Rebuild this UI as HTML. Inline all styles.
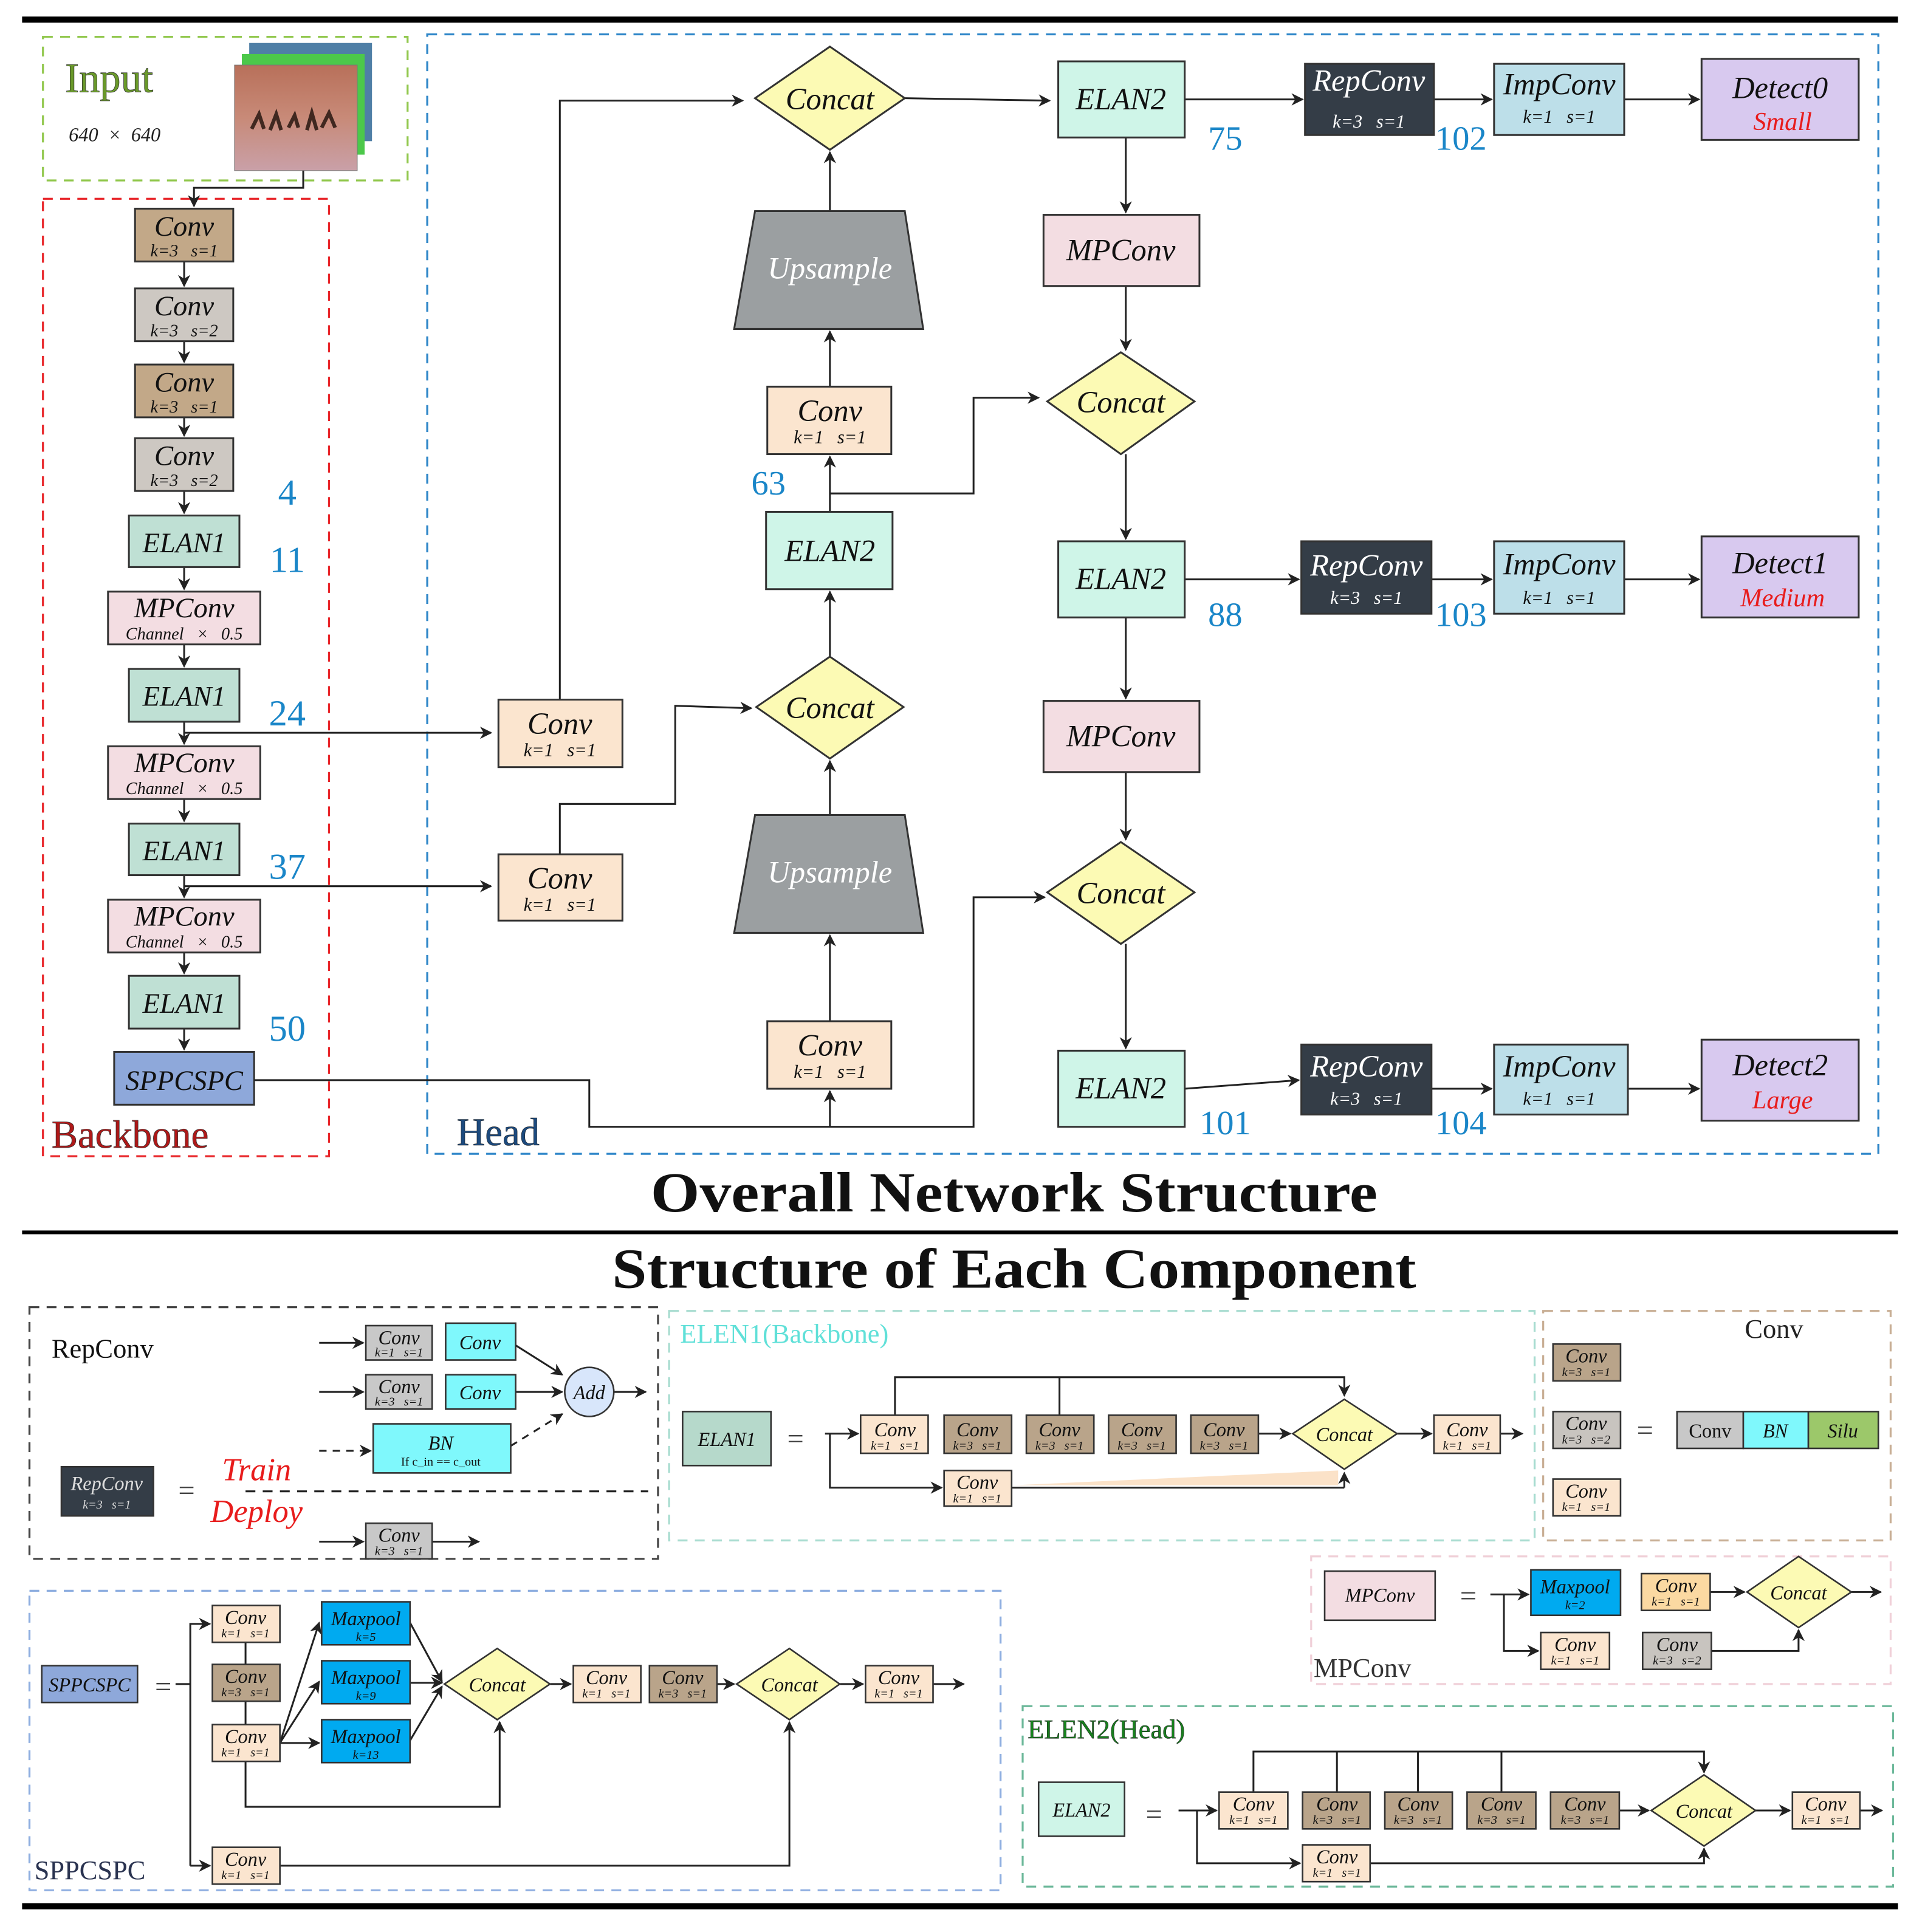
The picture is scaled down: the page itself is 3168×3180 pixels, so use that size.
<!DOCTYPE html>
<html><head><meta charset="utf-8"><style>
html,body{margin:0;padding:0;background:#fff;}
svg{display:block;}
text{font-family:"Liberation Serif",serif;white-space:pre;}
.i{font-style:italic;}
</style></head><body>
<svg width="3168" height="3180" viewBox="0 0 1568 1574" preserveAspectRatio="none" xmlns="http://www.w3.org/2000/svg">
<defs>
<marker id="a" markerWidth="10" markerHeight="10" refX="9" refY="5" orient="auto" markerUnits="userSpaceOnUse"><path d="M0,0 L10,5 L0,10 L3,5 Z" fill="#222"/></marker>
<linearGradient id="sky" x1="0" y1="0" x2="0" y2="1"><stop offset="0" stop-color="#b8705a"/><stop offset="0.5" stop-color="#c88a78"/><stop offset="1" stop-color="#c9a0a8"/></linearGradient>
</defs>
<rect width="1568" height="1574" fill="#fff"/>
<g stroke="#000"><line x1="18" y1="16" x2="1546" y2="16" stroke-width="5"/>
<line x1="18" y1="1004" x2="1546" y2="1004" stroke-width="3"/>
<line x1="18" y1="1553" x2="1546" y2="1553" stroke-width="5"/></g>

<g fill="none" stroke-width="1.6" stroke-dasharray="8,6">
<rect x="35" y="30" width="297" height="117" stroke="#92c84e"/>
<rect x="35" y="162" width="233" height="780" stroke="#e8262a"/>
<rect x="348" y="28" width="1182" height="912" stroke="#2e86c8"/>
<rect x="24" y="1065" width="512" height="205" stroke="#444"/>
<rect x="545" y="1068" width="705" height="187" stroke="#a8dcd0"/>
<rect x="1257" y="1068" width="283" height="187" stroke="#c8ae94"/>
<rect x="1068" y="1268" width="472" height="104" stroke="#f0d0d8"/>
<rect x="24" y="1296" width="791" height="244" stroke="#8eaee0"/>
<rect x="833" y="1390" width="709" height="147" stroke="#6cb89a"/>
</g>

<text x="53" y="75" font-size="34" fill="#6a9a2a" stroke="#333" stroke-width="0.4">Input</text>
<text x="56" y="115" font-size="16" class="i" fill="#222">640  ×  640</text>
<rect x="203" y="35" width="100" height="80" fill="#4f7fa6"/>
<rect x="197" y="44" width="100" height="82" fill="#4cc84a"/>
<rect x="191" y="53" width="100" height="86" fill="url(#sky)" stroke="#777" stroke-width="0.5"/>
<path d="M205,105 l6,-12 l4,12 M220,106 l5,-13 l4,13 M235,104 l5,-10 l3,10 M250,106 l4,-14 l4,14 M262,104 l6,-12 l5,12" stroke="#402820" stroke-width="3" fill="none"/>
<polyline points="247,139 247,153 158,153 158,168" fill="none" stroke="#222" stroke-width="1.5" marker-end="url(#a)"/>

<g stroke="#222" stroke-width="1.5">
<line x1="150" y1="213" x2="150" y2="233" marker-end="url(#a)"/>
<line x1="150" y1="278" x2="150" y2="295" marker-end="url(#a)"/>
<line x1="150" y1="340" x2="150" y2="355" marker-end="url(#a)"/>
<line x1="150" y1="400" x2="150" y2="418" marker-end="url(#a)"/>
<line x1="150" y1="462" x2="150" y2="480" marker-end="url(#a)"/>
<line x1="150" y1="525" x2="150" y2="543" marker-end="url(#a)"/>
<line x1="150" y1="588" x2="150" y2="606" marker-end="url(#a)"/>
<line x1="150" y1="651" x2="150" y2="669" marker-end="url(#a)"/>
<line x1="150" y1="713" x2="150" y2="731" marker-end="url(#a)"/>
<line x1="150" y1="776" x2="150" y2="793" marker-end="url(#a)"/>
<line x1="150" y1="838" x2="150" y2="855" marker-end="url(#a)"/>
</g>
<g stroke="#333" stroke-width="1.5">
<rect x="110" y="170" width="80" height="43" fill="#c2a888"/>
<rect x="110" y="235" width="80" height="43" fill="#cdc8c2"/>
<rect x="110" y="297" width="80" height="43" fill="#c2a888"/>
<rect x="110" y="357" width="80" height="43" fill="#cdc8c2"/>
<rect x="105" y="420" width="90" height="42" fill="#bfe0d4"/>
<rect x="88" y="482" width="124" height="43" fill="#f3dde2"/>
<rect x="105" y="545" width="90" height="43" fill="#bfe0d4"/>
<rect x="88" y="608" width="124" height="43" fill="#f3dde2"/>
<rect x="105" y="671" width="90" height="42" fill="#bfe0d4"/>
<rect x="88" y="733" width="124" height="43" fill="#f3dde2"/>
<rect x="105" y="795" width="90" height="43" fill="#bfe0d4"/>
<rect x="93" y="857" width="114" height="43" fill="#8ea8da"/>
</g>
<g class="i" fill="#111" text-anchor="middle">
<g font-size="23"><text x="150" y="192">Conv</text><text x="150" y="257">Conv</text><text x="150" y="319">Conv</text><text x="150" y="379">Conv</text>
<text x="150" y="450">ELAN1</text><text x="150" y="503">MPConv</text><text x="150" y="575">ELAN1</text><text x="150" y="629">MPConv</text><text x="150" y="701">ELAN1</text><text x="150" y="754">MPConv</text><text x="150" y="825">ELAN1</text><text x="150" y="888">SPPCSPC</text></g>
<g font-size="14"><text x="150" y="209">k=3   s=1</text><text x="150" y="274">k=3   s=2</text><text x="150" y="336">k=3   s=1</text><text x="150" y="396">k=3   s=2</text>
<text x="150" y="521">Channel   ×   0.5</text><text x="150" y="647">Channel   ×   0.5</text><text x="150" y="772">Channel   ×   0.5</text></g>
</g>
<g fill="#1a86c8" font-size="30" text-anchor="middle"><text x="234" y="411">4</text><text x="234" y="466">11</text><text x="234" y="591">24</text><text x="234" y="716">37</text><text x="234" y="848">50</text>
<text x="626" y="403" font-size="28">63</text>
<text x="998" y="122" font-size="28">75</text><text x="1190" y="122" font-size="28">102</text>
<text x="998" y="510" font-size="28">88</text><text x="1190" y="510" font-size="28">103</text>
<text x="998" y="924" font-size="28">101</text><text x="1190" y="924" font-size="28">104</text></g>
<text x="42" y="935" font-size="32" fill="#b01818" stroke="#333" stroke-width="0.4">Backbone</text>
<text x="372" y="933" font-size="32" fill="#1c4a7e" stroke="#222" stroke-width="0.3">Head</text>

<g fill="none" stroke="#222" stroke-width="1.5">
<line x1="150" y1="597" x2="400" y2="597" marker-end="url(#a)"/>
<line x1="150" y1="722" x2="400" y2="722" marker-end="url(#a)"/>
<polyline points="456,570 456,82 605,82" marker-end="url(#a)"/>
<polyline points="456,696 456,655 550,655 550,575 612,577" marker-end="url(#a)"/>
<line x1="676" y1="315" x2="676" y2="270" marker-end="url(#a)"/>
<line x1="676" y1="172" x2="676" y2="124" marker-end="url(#a)"/>
<line x1="676" y1="417" x2="676" y2="372" marker-end="url(#a)"/>
<line x1="676" y1="535" x2="676" y2="482" marker-end="url(#a)"/>
<line x1="676" y1="664" x2="676" y2="620" marker-end="url(#a)"/>
<line x1="676" y1="832" x2="676" y2="762" marker-end="url(#a)"/>
<line x1="676" y1="918" x2="676" y2="889" marker-end="url(#a)"/>
<polyline points="676,402 793,402 793,324 846,324" marker-end="url(#a)"/>
<polyline points="207,880 480,880 480,918 793,918 793,731 851,731" marker-end="url(#a)"/>
<line x1="737" y1="80" x2="855" y2="82" marker-end="url(#a)"/>
<line x1="917" y1="112" x2="917" y2="173" marker-end="url(#a)"/>
<line x1="917" y1="233" x2="917" y2="285" marker-end="url(#a)"/>
<line x1="917" y1="370" x2="917" y2="439" marker-end="url(#a)"/>
<line x1="917" y1="503" x2="917" y2="569" marker-end="url(#a)"/>
<line x1="917" y1="629" x2="917" y2="684" marker-end="url(#a)"/>
<line x1="917" y1="769" x2="917" y2="854" marker-end="url(#a)"/>
<line x1="965" y1="81" x2="1061" y2="81" marker-end="url(#a)"/>
<line x1="1168" y1="81" x2="1215" y2="81" marker-end="url(#a)"/>
<line x1="1323" y1="81" x2="1384" y2="81" marker-end="url(#a)"/>
<line x1="965" y1="472" x2="1058" y2="472" marker-end="url(#a)"/>
<line x1="1166" y1="472" x2="1215" y2="472" marker-end="url(#a)"/>
<line x1="1323" y1="472" x2="1384" y2="472" marker-end="url(#a)"/>
<line x1="965" y1="887" x2="1058" y2="880" marker-end="url(#a)"/>
<line x1="1166" y1="887" x2="1215" y2="887" marker-end="url(#a)"/>
<line x1="1326" y1="887" x2="1384" y2="887" marker-end="url(#a)"/>
</g>
<g stroke="#333" stroke-width="1.5">
<rect x="406" y="570" width="101" height="55" fill="#fbe5cf"/>
<rect x="406" y="696" width="101" height="54" fill="#fbe5cf"/>
<polygon points="676,38 737,80 676,122 615,80" fill="#fcfab4"/>
<polygon points="615,172 737,172 752,268 598,268" fill="#9b9fa1"/>
<rect x="625" y="315" width="101" height="55" fill="#fbe5cf"/>
<rect x="624" y="417" width="103" height="63" fill="#cff5e8"/>
<polygon points="676,535 736,576 676,618 616,576" fill="#fcfab4"/>
<polygon points="615,664 737,664 752,760 598,760" fill="#9b9fa1"/>
<rect x="625" y="832" width="101" height="55" fill="#fbe5cf"/>
<rect x="862" y="50" width="103" height="62" fill="#cff5e8"/>
<rect x="850" y="175" width="127" height="58" fill="#f3dde2"/>
<polygon points="913,287 973,327 913,370 853,327" fill="#fcfab4"/>
<rect x="862" y="441" width="103" height="62" fill="#cff5e8"/>
<rect x="850" y="571" width="127" height="58" fill="#f3dde2"/>
<polygon points="913,686 973,727 913,769 853,727" fill="#fcfab4"/>
<rect x="862" y="856" width="103" height="62" fill="#cff5e8"/>
<rect x="1063" y="52" width="105" height="58" fill="#343d47"/>
<rect x="1217" y="52" width="106" height="58" fill="#bddfe9"/>
<rect x="1386" y="48" width="128" height="66" fill="#d8c9ef"/>
<rect x="1060" y="441" width="106" height="59" fill="#343d47"/>
<rect x="1217" y="441" width="106" height="59" fill="#bddfe9"/>
<rect x="1386" y="437" width="128" height="66" fill="#d8c9ef"/>
<rect x="1060" y="851" width="106" height="57" fill="#343d47"/>
<rect x="1217" y="851" width="109" height="57" fill="#bddfe9"/>
<rect x="1386" y="847" width="128" height="66" fill="#d8c9ef"/>
</g>
<g class="i" fill="#111" text-anchor="middle" font-size="25">
<text x="456" y="598">Conv</text><text x="456" y="724">Conv</text><text x="676" y="89">Concat</text>
<text x="676" y="227" fill="#fff">Upsample</text><text x="676" y="343">Conv</text><text x="676" y="457">ELAN2</text>
<text x="676" y="585">Concat</text><text x="676" y="719" fill="#fff">Upsample</text><text x="676" y="860">Conv</text>
<text x="913" y="89">ELAN2</text><text x="913" y="212">MPConv</text><text x="913" y="336">Concat</text>
<text x="913" y="480">ELAN2</text><text x="913" y="608">MPConv</text><text x="913" y="736">Concat</text><text x="913" y="895">ELAN2</text>
<text x="1115" y="74" fill="#fff">RepConv</text><text x="1270" y="77">ImpConv</text><text x="1450" y="80">Detect0</text>
<text x="1113" y="469" fill="#fff">RepConv</text><text x="1270" y="468">ImpConv</text><text x="1450" y="467">Detect1</text>
<text x="1113" y="877" fill="#fff">RepConv</text><text x="1270" y="877">ImpConv</text><text x="1450" y="876">Detect2</text>
<g font-size="15"><text x="456" y="616">k=1   s=1</text><text x="456" y="742">k=1   s=1</text><text x="676" y="361">k=1   s=1</text><text x="676" y="878">k=1   s=1</text>
<text x="1115" y="104" fill="#fff">k=3   s=1</text><text x="1270" y="100">k=1   s=1</text>
<text x="1113" y="492" fill="#fff">k=3   s=1</text><text x="1270" y="492">k=1   s=1</text>
<text x="1113" y="900" fill="#fff">k=3   s=1</text><text x="1270" y="900">k=1   s=1</text></g>
<g font-size="21" fill="#e81c1c"><text x="1452" y="106">Small</text><text x="1452" y="494">Medium</text><text x="1452" y="903">Large</text></g>
</g>

<g font-weight="bold" font-size="46" text-anchor="middle" fill="#111"><text x="826" y="987" textLength="592" lengthAdjust="spacingAndGlyphs">Overall Network Structure</text><text x="826" y="1049" textLength="655" lengthAdjust="spacingAndGlyphs">Structure of Each Component</text></g>

<g fill="none" stroke="#222" stroke-width="1.5">
<line x1="260" y1="1094" x2="296" y2="1094" marker-end="url(#a)"/>
<line x1="260" y1="1134" x2="296" y2="1134" marker-end="url(#a)"/>
<line x1="260" y1="1182" x2="302" y2="1182" stroke-dasharray="6,5" marker-end="url(#a)"/>
<line x1="420" y1="1096" x2="458" y2="1120" marker-end="url(#a)"/>
<line x1="420" y1="1134" x2="458" y2="1134" marker-end="url(#a)"/>
<line x1="416" y1="1178" x2="458" y2="1152" stroke-dasharray="6,5" marker-end="url(#a)"/>
<line x1="500" y1="1134" x2="526" y2="1134" marker-end="url(#a)"/>
<line x1="200" y1="1215" x2="528" y2="1215" stroke-dasharray="8,6"/>
<line x1="260" y1="1256" x2="296" y2="1256" marker-end="url(#a)"/>
<line x1="352" y1="1256" x2="390" y2="1256" marker-end="url(#a)"/>
</g>
<g stroke="#333" stroke-width="1.3">
<rect x="298" y="1080" width="54" height="28" fill="#c8c8c8"/><rect x="363" y="1078" width="57" height="30" fill="#7ff8fc"/>
<rect x="298" y="1120" width="54" height="28" fill="#c8c8c8"/><rect x="363" y="1120" width="57" height="28" fill="#7ff8fc"/>
<rect x="304" y="1160" width="112" height="40" fill="#7ff8fc"/>
<circle cx="480" cy="1134" r="20" fill="#d8e6fb"/>
<rect x="50" y="1195" width="75" height="40" fill="#343d47"/>
<rect x="298" y="1241" width="54" height="29" fill="#c8c8c8"/>
</g>
<text x="42" y="1106" font-size="22" fill="#111">RepConv</text>
<text x="152" y="1222" font-size="24" text-anchor="middle" fill="#444">=</text>
<g class="i" fill="#e81c1c" font-size="26" text-anchor="middle"><text x="209" y="1206">Train</text><text x="209" y="1240">Deploy</text></g>
<g class="i" fill="#111" text-anchor="middle">
<g font-size="16"><text x="325" y="1095">Conv</text><text x="391" y="1099">Conv</text><text x="325" y="1135">Conv</text><text x="391" y="1140">Conv</text><text x="359" y="1181">BN</text><text x="480" y="1140">Add</text><text x="325" y="1256">Conv</text>
<text x="87" y="1214" fill="#ddd">RepConv</text></g>
<g font-size="10"><text x="325" y="1105">k=1   s=1</text><text x="325" y="1145">k=3   s=1</text><text x="325" y="1267">k=3   s=1</text><text x="87" y="1229" fill="#ddd">k=3   s=1</text></g>
<text x="359" y="1194" font-size="10" font-style="normal">If c_in == c_out</text>
</g>

<text x="554" y="1094" font-size="22" fill="#60e0d8">ELEN1(Backbone)</text>
<g fill="none" stroke="#222" stroke-width="1.5">
<line x1="672" y1="1168" x2="699" y2="1168" marker-end="url(#a)"/>
<polyline points="676,1168 676,1212 767,1212" marker-end="url(#a)"/>
<polyline points="729,1153 729,1122 1095,1122 1095,1137" marker-end="url(#a)"/>
<line x1="863" y1="1122" x2="863" y2="1153"/>
<line x1="1025" y1="1168" x2="1051" y2="1168" marker-end="url(#a)"/>
<line x1="1138" y1="1168" x2="1166" y2="1168" marker-end="url(#a)"/>
<line x1="1222" y1="1168" x2="1240" y2="1168" marker-end="url(#a)"/>
<line x1="824" y1="1212" x2="1095" y2="1212"/>
<line x1="1095" y1="1212" x2="1095" y2="1200" marker-end="url(#a)"/>
</g>
<polygon points="826,1210 1090,1198 1090,1210" fill="#fbe2c8"/>
<g stroke="#333" stroke-width="1.3">
<rect x="556" y="1150" width="72" height="44" fill="#b6d9cb"/>
<rect x="701" y="1153" width="55" height="31" fill="#fbe5cf"/>
<rect x="769" y="1153" width="55" height="31" fill="#b9a48a"/>
<rect x="836" y="1153" width="55" height="31" fill="#b9a48a"/>
<rect x="903" y="1153" width="55" height="31" fill="#b9a48a"/>
<rect x="970" y="1153" width="55" height="31" fill="#b9a48a"/>
<polygon points="1095,1140 1138,1168 1095,1197 1053,1168" fill="#fcfab4"/>
<rect x="1168" y="1153" width="54" height="31" fill="#fbe5cf"/>
<rect x="769" y="1198" width="55" height="29" fill="#fbe5cf"/>
</g>
<text x="648" y="1180" font-size="24" text-anchor="middle" fill="#444">=</text>

<text x="1445" y="1090" font-size="22" text-anchor="middle" fill="#222">Conv</text>
<g stroke="#333" stroke-width="1.3">
<rect x="1265" y="1095" width="55" height="30" fill="#b9a48a"/>
<rect x="1265" y="1150" width="55" height="30" fill="#c8c4bf"/>
<rect x="1265" y="1205" width="55" height="30" fill="#fbe5cf"/>
<rect x="1366" y="1150" width="54" height="30" fill="#c8c8c8"/>
<rect x="1420" y="1150" width="53" height="30" fill="#7ff8fc"/>
<rect x="1473" y="1150" width="57" height="30" fill="#9cc86a"/>
</g>
<text x="1340" y="1173" font-size="24" text-anchor="middle" fill="#444">=</text>

<g fill="none" stroke="#222" stroke-width="1.5">
<line x1="1214" y1="1299" x2="1245" y2="1299" marker-end="url(#a)"/>
<polyline points="1225,1299 1225,1345 1253,1345" marker-end="url(#a)"/>
<line x1="1393" y1="1297" x2="1421" y2="1297" marker-end="url(#a)"/>
<line x1="1508" y1="1297" x2="1532" y2="1297" marker-end="url(#a)"/>
<polyline points="1394,1345 1465,1345 1465,1328" marker-end="url(#a)"/>
</g>
<g stroke="#333" stroke-width="1.3">
<rect x="1079" y="1280" width="90" height="40" fill="#f3dde2"/>
<rect x="1247" y="1279" width="73" height="37" fill="#00aaf0"/>
<rect x="1337" y="1282" width="56" height="30" fill="#fbd9a2"/>
<polygon points="1465,1268 1508,1297 1465,1326 1423,1297" fill="#fcfab4"/>
<rect x="1255" y="1330" width="56" height="30" fill="#fbe5cf"/>
<rect x="1338" y="1330" width="56" height="30" fill="#c8c4bf"/>
</g>
<text x="1196" y="1308" font-size="24" text-anchor="middle" fill="#444">=</text>
<text x="1070" y="1366" font-size="22" fill="#333">MPConv</text>

<g fill="none" stroke="#222" stroke-width="1.5">
<line x1="143" y1="1372" x2="155" y2="1372"/>
<polyline points="155,1520 155,1323 171,1323" marker-end="url(#a)"/>
<line x1="155" y1="1520" x2="171" y2="1520" marker-end="url(#a)"/>
<line x1="200" y1="1338" x2="200" y2="1356"/>
<line x1="200" y1="1386" x2="200" y2="1405"/>
<polyline points="200,1435 200,1472 407,1472 407,1403" marker-end="url(#a)"/>
<line x1="228" y1="1420" x2="260" y2="1322" marker-end="url(#a)"/>
<line x1="228" y1="1420" x2="260" y2="1370" marker-end="url(#a)"/>
<line x1="228" y1="1420" x2="260" y2="1420" marker-end="url(#a)"/>
<line x1="334" y1="1322" x2="360" y2="1370" marker-end="url(#a)"/>
<line x1="334" y1="1371" x2="360" y2="1371" marker-end="url(#a)"/>
<line x1="334" y1="1418" x2="360" y2="1374" marker-end="url(#a)"/>
<line x1="448" y1="1372" x2="465" y2="1372" marker-end="url(#a)"/>
<line x1="584" y1="1372" x2="598" y2="1372" marker-end="url(#a)"/>
<line x1="684" y1="1372" x2="703" y2="1372" marker-end="url(#a)"/>
<line x1="760" y1="1372" x2="785" y2="1372" marker-end="url(#a)"/>
<polyline points="228,1520 643,1520 643,1403" marker-end="url(#a)"/>
</g>
<g stroke="#333" stroke-width="1.3">
<rect x="34" y="1357" width="78" height="30" fill="#8ea8da"/>
<rect x="173" y="1308" width="55" height="30" fill="#fbe5cf"/>
<rect x="173" y="1356" width="55" height="30" fill="#b9a48a"/>
<rect x="173" y="1405" width="55" height="30" fill="#fbe5cf"/>
<rect x="262" y="1305" width="72" height="35" fill="#00aaf0"/>
<rect x="262" y="1353" width="72" height="35" fill="#00aaf0"/>
<rect x="262" y="1401" width="72" height="35" fill="#00aaf0"/>
<polygon points="405,1343 448,1372 405,1401 362,1372" fill="#fcfab4"/>
<rect x="467" y="1357" width="55" height="30" fill="#fbe5cf"/>
<rect x="529" y="1357" width="55" height="30" fill="#b9a48a"/>
<polygon points="643,1343 684,1372 643,1401 600,1372" fill="#fcfab4"/>
<rect x="705" y="1357" width="55" height="30" fill="#fbe5cf"/>
<rect x="173" y="1505" width="55" height="30" fill="#fbe5cf"/>
</g>
<text x="133" y="1382" font-size="24" text-anchor="middle" fill="#444">=</text>
<text x="28" y="1531" font-size="22" fill="#2a3350">SPPCSPC</text>

<text x="837" y="1416" font-size="22" fill="#18801e" stroke="#222" stroke-width="0.3">ELEN2(Head)</text>
<g fill="none" stroke="#222" stroke-width="1.5">
<line x1="960" y1="1475" x2="991" y2="1475" marker-end="url(#a)"/>
<polyline points="975,1475 975,1518 1059,1518" marker-end="url(#a)"/>
<polyline points="1021,1460 1021,1427 1388,1427 1388,1444" marker-end="url(#a)"/>
<line x1="1089" y1="1427" x2="1089" y2="1460"/><line x1="1155" y1="1427" x2="1155" y2="1460"/><line x1="1223" y1="1427" x2="1223" y2="1460"/>
<line x1="1319" y1="1475" x2="1343" y2="1475" marker-end="url(#a)"/>
<line x1="1430" y1="1475" x2="1458" y2="1475" marker-end="url(#a)"/>
<line x1="1515" y1="1475" x2="1533" y2="1475" marker-end="url(#a)"/>
<polyline points="1116,1518 1388,1518 1388,1506" marker-end="url(#a)"/>
</g>
<g stroke="#333" stroke-width="1.3">
<rect x="846" y="1452" width="70" height="44" fill="#cff5e8"/>
<rect x="993" y="1460" width="56" height="30" fill="#fbe5cf"/>
<rect x="1061" y="1460" width="55" height="30" fill="#b9a48a"/>
<rect x="1128" y="1460" width="55" height="30" fill="#b9a48a"/>
<rect x="1195" y="1460" width="56" height="30" fill="#b9a48a"/>
<rect x="1263" y="1460" width="56" height="30" fill="#b9a48a"/>
<polygon points="1388,1446 1430,1475 1388,1504 1345,1475" fill="#fcfab4"/>
<rect x="1460" y="1460" width="55" height="30" fill="#fbe5cf"/>
<rect x="1061" y="1503" width="55" height="30" fill="#fbe5cf"/>
</g>
<text x="940" y="1486" font-size="24" text-anchor="middle" fill="#444">=</text>

<g class="i" fill="#111" text-anchor="middle" font-size="16">
<text x="592" y="1178">ELAN1</text>
<text x="729" y="1170">Conv</text><text x="796" y="1170">Conv</text><text x="863" y="1170">Conv</text><text x="930" y="1170">Conv</text><text x="997" y="1170">Conv</text>
<text x="1095" y="1174">Concat</text><text x="1195" y="1170">Conv</text><text x="796" y="1213">Conv</text>
<text x="1292" y="1110">Conv</text><text x="1292" y="1165">Conv</text><text x="1292" y="1220">Conv</text>
<text x="1393" y="1171" font-style="normal">Conv</text><text x="1446" y="1171">BN</text><text x="1501" y="1171">Silu</text>
<text x="1124" y="1305">MPConv</text><text x="1283" y="1298">Maxpool</text><text x="1365" y="1297">Conv</text><text x="1465" y="1303">Concat</text>
<text x="1283" y="1345">Conv</text><text x="1366" y="1345">Conv</text>
<text x="73" y="1378">SPPCSPC</text>
<text x="200" y="1323">Conv</text><text x="200" y="1371">Conv</text><text x="200" y="1420">Conv</text>
<text x="298" y="1324">Maxpool</text><text x="298" y="1372">Maxpool</text><text x="298" y="1420">Maxpool</text>
<text x="405" y="1378">Concat</text><text x="494" y="1372">Conv</text><text x="556" y="1372">Conv</text><text x="643" y="1378">Concat</text><text x="732" y="1372">Conv</text>
<text x="200" y="1520">Conv</text>
<text x="881" y="1480">ELAN2</text>
<text x="1021" y="1475">Conv</text><text x="1089" y="1475">Conv</text><text x="1155" y="1475">Conv</text><text x="1223" y="1475">Conv</text><text x="1291" y="1475">Conv</text>
<text x="1388" y="1481">Concat</text><text x="1487" y="1475">Conv</text><text x="1089" y="1518">Conv</text>
</g>
<g class="i" fill="#111" text-anchor="middle" font-size="10">
<text x="729" y="1181">k=1   s=1</text><text x="796" y="1181">k=3   s=1</text><text x="863" y="1181">k=3   s=1</text><text x="930" y="1181">k=3   s=1</text><text x="997" y="1181">k=3   s=1</text>
<text x="1195" y="1181">k=1   s=1</text><text x="796" y="1224">k=1   s=1</text>
<text x="1292" y="1121">k=3   s=1</text><text x="1292" y="1176">k=3   s=2</text><text x="1292" y="1231">k=1   s=1</text>
<text x="1283" y="1311">k=2</text><text x="1365" y="1308">k=1   s=1</text><text x="1283" y="1356">k=1   s=1</text><text x="1366" y="1356">k=3   s=2</text>
<text x="200" y="1334">k=1   s=1</text><text x="200" y="1382">k=3   s=1</text><text x="200" y="1431">k=1   s=1</text>
<text x="298" y="1337">k=5</text><text x="298" y="1385">k=9</text><text x="298" y="1433">k=13</text>
<text x="494" y="1383">k=1   s=1</text><text x="556" y="1383">k=3   s=1</text><text x="732" y="1383">k=1   s=1</text><text x="200" y="1531">k=1   s=1</text>
<text x="1021" y="1486">k=1   s=1</text><text x="1089" y="1486">k=3   s=1</text><text x="1155" y="1486">k=3   s=1</text><text x="1223" y="1486">k=3   s=1</text><text x="1291" y="1486">k=3   s=1</text>
<text x="1487" y="1486">k=1   s=1</text><text x="1089" y="1529">k=1   s=1</text>
</g>
</svg>
</body></html>
